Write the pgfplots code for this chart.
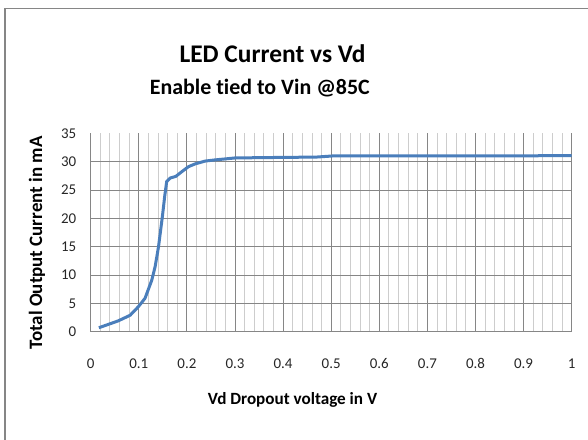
\documentclass[border=0pt]{standalone}
\usepackage{pgfplots}
\pgfplotsset{compat=1.18}
\usepackage{fontspec}
\setmainfont{Carlito}[Ligatures=NoCommon]
\definecolor{curve}{RGB}{74,126,187}
\definecolor{gmaj}{RGB}{134,134,134}
\definecolor{gmin}{RGB}{205,205,205}
\begin{document}
\begin{tikzpicture}[x=1bp,y=1bp]
\useasboundingbox (0,0) rectangle (588,440);
\draw[gmaj, line width=1.5bp] (5,-20) -- (5,431.7) -- (620,431.7);
\node[font=\bfseries\fontsize{25.5}{30}\selectfont, anchor=base] at (272.5,377) {LED Current vs Vd};
\node[font=\bfseries\fontsize{22}{26}\selectfont, anchor=base] at (259.8,345) {Enable tied to Vin @85C};
\node[font=\bfseries\fontsize{17.2}{21}\selectfont, anchor=base] at (292.5,35) {Vd Dropout voltage in V};
\node[font=\bfseries\fontsize{19}{22}\selectfont, rotate=90, anchor=base] at (42,197) {Total Output Current in mA};
\begin{axis}[
  at={(90.7bp,108.3bp)}, anchor=south west,
  scale only axis, width=481bp, height=198.4bp,
  xmin=0, xmax=1, ymin=0, ymax=35,
  xtick={0,0.1,...,1.01}, ytick={0,5,...,30},
  extra y ticks={35}, extra y tick style={grid=none},
  minor x tick num=4,
  xticklabels={0,0.1,0.2,0.3,0.4,0.5,0.6,0.7,0.8,0.9,1},
  xmajorgrids, xminorgrids, ymajorgrids,
  major grid style={gmaj, line width=0.9bp},
  minor grid style={gmin, line width=0.9bp},
  axis line style={draw=none},
  tick style={draw=none},
  /pgf/number format/assume math mode=true,
  ticklabel style={font=\fontsize{15}{17}\selectfont, text=black!85},
  xticklabel style={text height=10bp, text depth=0bp, yshift=-23bp},
  yticklabel style={xshift=-11bp},
  clip=false,
]
\addplot[curve, line width=3bp, line join=round] coordinates {
(0.017,0.7) (0.037,1.3) (0.057,1.9) (0.082,2.9) (0.099,4.4) (0.113,5.9)
(0.127,9.1) (0.134,11.5) (0.141,15.0) (0.149,20.3) (0.154,24.0) (0.158,26.5)
(0.165,27.1) (0.177,27.4) (0.189,28.2) (0.203,29.1) (0.217,29.6) (0.238,30.1)
(0.258,30.3) (0.30,30.65) (0.40,30.75) (0.468,30.8) (0.503,31.0) (0.7,31.0) (1.0,31.05)
};
\end{axis}
\end{tikzpicture}
\end{document}
